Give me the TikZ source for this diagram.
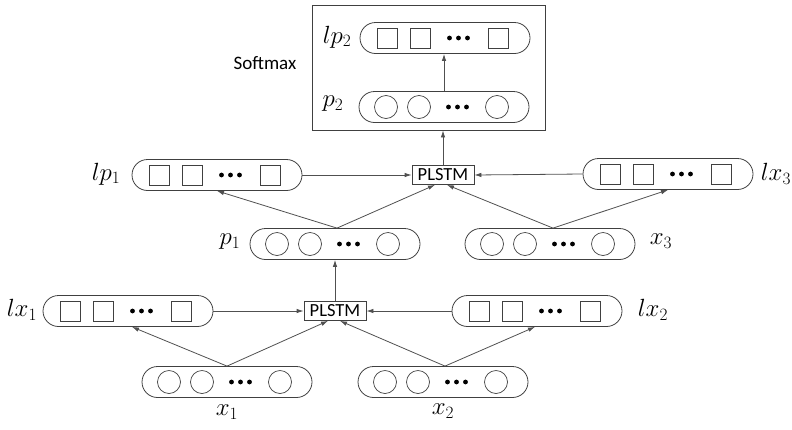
\documentclass[tikz,border=0pt]{standalone}
\usepackage{fontspec}
\newfontfamily\calfont{Carlito}
\usetikzlibrary{arrows.meta}
\definecolor{ln}{HTML}{404040}
\definecolor{ar}{HTML}{505050}
\tikzset{
  capsule/.style={draw=ln,line width=0.8pt,rounded corners=15.5pt,minimum width=170pt,minimum height=31pt,inner sep=0pt},
  sqbox/.style={draw=ln,line width=0.7pt,minimum size=20pt,inner sep=0pt},
  cibox/.style={draw=ln,line width=0.7pt,circle,minimum size=23pt,inner sep=0pt},
  lstm/.style={draw=ln,line width=0.8pt,font=\calfont\fontsize{18.5}{20}\selectfont,inner sep=1.5pt,minimum height=19pt,minimum width=62pt},
  lbl/.style={font=\fontsize{23}{26}\selectfont,inner sep=0pt},
  conn/.style={draw=ar,line width=0.8pt,-{Latex[length=7pt,width=4.5pt]}}
}
\newcommand\mycap[4]{%
  \node[capsule] (#1) at (#2,#3) {};
  \foreach \dx [count=\i] in {-58,-25,53} {\node[#4] (#1s\i) at ([xshift=\dx pt]#1.center) {};}
  \foreach \dx in {4.5,13.5,22.5} {\fill ([xshift=\dx pt]#1.center) circle (2.4pt);}
}
\begin{document}
\begin{tikzpicture}[x=1pt,y=-1pt]
\useasboundingbox (0,0) rectangle (792,429);
% softmax box
\node[draw=ln,line width=0.8pt,minimum width=233pt,minimum height=125pt,inner sep=0pt] (box) at (428.5,67.5) {};
\node[font=\calfont\fontsize{19}{22}\selectfont,inner sep=0pt] (smx) at (265,63) {Softmax};
% capsules
\mycap{lpb}{445}{38}{sqbox}
\mycap{pb}{444}{107}{cibox}
\mycap{lpa}{217}{175}{sqbox}
\mycap{lxc}{668}{174}{sqbox}
\mycap{pa}{335}{244}{cibox}
\mycap{xc}{550}{244}{cibox}
\mycap{lxa}{128}{311}{sqbox}
\mycap{lxb}{537}{311}{sqbox}
\mycap{xa}{227}{382}{cibox}
\mycap{xb}{443}{382}{cibox}
% PLSTM
\node[lstm] (pu) at (443,175) {PLSTM};
\node[lstm] (pl) at (335,311) {PLSTM};
% labels
\node[lbl] (Llpb) at (337,37) {$lp_2$};
\node[lbl] (Lpb) at (333,104) {$p_2$};
\node[lbl] (Llpa) at (106,174) {$lp_1$};
\node[lbl] (Lpa) at (230,242) {$p_1$};
\node[lbl] (Llxc) at (776,174) {$lx_3$};
\node[lbl] (Lxc) at (661,241) {$x_3$};
\node[lbl] (Llxa) at (22,310) {$lx_1$};
\node[lbl] (Llxb) at (653,310) {$lx_2$};
\node[lbl] (Lxa) at (227,412) {$x_1$};
\node[lbl] (Lxb) at (443,411) {$x_2$};
% connectors
\draw[conn] (pb.north) -- (lpb.south -| pb.north);
\draw[conn] (pu.north) -- (pu.north |- box.south);
\draw[conn] (lpa.east) -- (pu.west);
\draw[conn] (lxc.west) -- (pu.east);
\draw[conn] ([xshift=2pt]pa.north) -- (lpa.south);
\draw[conn] ([xshift=2pt]pa.north) -- ([xshift=-8pt]pu.south);
\draw[conn] ([xshift=3pt]xc.north) -- (lxc.south);
\draw[conn] ([xshift=3pt]xc.north) -- ([xshift=4pt]pu.south);
\draw[conn] (pl.north) -- (pl.north |- pa.south);
\draw[conn] (lxa.east) -- (pl.west);
\draw[conn] (lxb.west) -- (pl.east);
\draw[conn] (xa.north) -- ([xshift=4pt]lxa.south);
\draw[conn] (xa.north) -- ([xshift=-7pt]pl.south);
\draw[conn] ([xshift=2pt]xb.north) -- ([xshift=-2pt]lxb.south);
\draw[conn] ([xshift=2pt]xb.north) -- ([xshift=5pt]pl.south);
\end{tikzpicture}
\end{document}
